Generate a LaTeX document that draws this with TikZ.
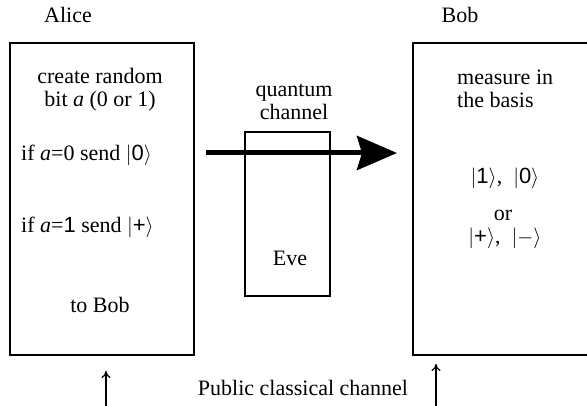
\documentclass[tikz,border=0pt]{standalone}
\usepackage{fontspec}
\setmainfont{Liberation Serif}
\setsansfont{Liberation Sans}
\usetikzlibrary{arrows.meta}
\newcommand{\qket}[1]{$|$\textsf{#1}$\rangle$}
\begin{document}
\begin{tikzpicture}[x=1pt,y=-1pt,
  every node/.style={font=\fontsize{22}{23}\selectfont, inner sep=0pt},
  panel/.style={draw, line width=1.4pt},
  txt/.style={align=center},
  ltxt/.style={anchor=west},
  uparrow/.style={line width=1.2pt, -{To[length=7pt,width=9pt]}},
  qarrow/.style={line width=5pt, -{Stealth[length=40pt,width=34pt,inset=5pt]}}]
\useasboundingbox (0,0) rectangle (587,406);
\clip (0,0) rectangle (587,406);
% boxes
\draw[panel] (10,43) rectangle (194,355);
\draw[panel] (413,43) rectangle (600,355);
\draw[panel, line width=1.1pt] (245,132) rectangle (330,296);
% labels
\node (alice) at (68,15) {Alice};
\node (bob) at (460,15) {Bob};
\node[txt] (create) at (100,90) {create random\\bit \textit{a} (0 or 1)};
\node[ltxt] (if0) at (21,155) {if \textit{a}=0 send \qket{0}};
\node[ltxt] (if1) at (21,227) {if \textit{a}=\textsf{1} send \qket{+}};
\node (tobob) at (100,305) {to Bob};
\node[align=left, anchor=west] (measure) at (457,89) {measure in\\the basis};
\node (b1) at (505,178) {\qket{1},\ \ \qket{0}};
\node (or) at (503,215) {or};
\node (b2) at (505,238) {\qket{+},\ \ \qket{$-$}};
\node[txt] (qc) at (294,102) {quantum\\channel};
\node (eve) at (290,258) {Eve};
\node (pub) at (303,388) {Public classical channel};
% quantum arrow
\coordinate (qs) at (206,153);
\coordinate (qe) at (397,153);
\draw[qarrow] (qs) -- (qe);
% public channel arrows
\coordinate (a0) at (106,406);
\coordinate (a1) at (106,371);
\coordinate (b0) at (436,406);
\coordinate (b1t) at (436,364);
\draw[uparrow] (a0) -- (a1);
\draw[uparrow] (b0) -- (b1t);
\end{tikzpicture}
\end{document}
